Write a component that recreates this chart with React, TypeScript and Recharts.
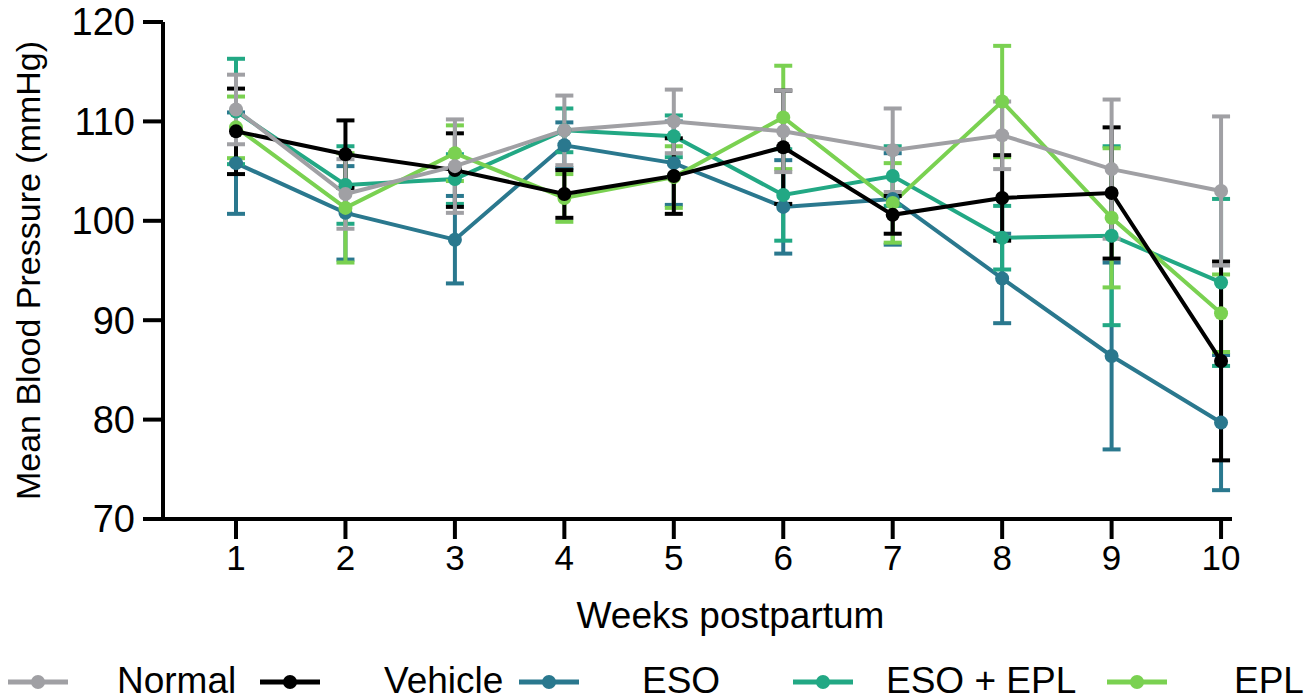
import { LineChart, Line, XAxis, YAxis, ErrorBar, Legend } from 'recharts';

const weeks = [1, 2, 3, 4, 5, 6, 7, 8, 9, 10];

const normal = [111.2, 102.7, 105.5, 109.1, 110.0, 109.0, 107.1, 108.6, 105.2, 103.0];
const normalErr = [3.5, 3.5, 4.7, 3.5, 3.2, 4.1, 4.2, 3.4, 7.0, 7.5];
const vehicle = [109.0, 106.7, 105.1, 102.7, 104.5, 107.4, 100.6, 102.3, 102.8, 85.9];
const vehicleErr = [4.3, 3.4, 3.7, 2.4, 3.8, 5.7, 1.9, 4.3, 6.6, 10.0];
const eso = [105.8, 100.8, 98.1, 107.6, 105.8, 101.4, 102.2, 94.2, 86.4, 79.7];
const esoErr = [5.1, 4.7, 4.4, 2.3, 4.2, 4.7, 4.6, 4.5, 9.4, 6.8];
const esoEpl = [111.0, 103.6, 104.2, 109.1, 108.5, 102.6, 104.5, 98.3, 98.5, 93.8];
const esoEplErr = [5.3, 3.9, 2.5, 2.2, 2.1, 4.6, 3.0, 3.2, 9.0, 8.4];
const epl = [109.4, 101.3, 106.8, 102.3, 104.4, 110.4, 101.8, 112.0, 100.3, 90.7];
const eplErr = [3.1, 5.5, 2.8, 2.4, 3.1, 5.2, 4.0, 5.6, 7.0, 3.9];

const yTicks = [70, 80, 90, 100, 110, 120];

const FONT = '"Liberation Sans", Arial, Helvetica, sans-serif';

const data = weeks.map((w, i) => ({
  week: w,
  normal: normal[i],
  normalErr: normalErr[i],
  vehicle: vehicle[i],
  vehicleErr: vehicleErr[i],
  eso: eso[i],
  esoErr: esoErr[i],
  esoEpl: esoEpl[i],
  esoEplErr: esoEplErr[i],
  epl: epl[i],
  eplErr: eplErr[i],
}));

// drawn bottom to top
const series = [
  { key: 'eso', name: 'ESO', color: '#2a788e' },
  { key: 'esoEpl', name: 'ESO + EPL', color: '#22a884' },
  { key: 'epl', name: 'EPL', color: '#7ad151' },
  { key: 'vehicle', name: 'Vehicle', color: '#000000' },
  { key: 'normal', name: 'Normal', color: '#a0a0a4' },
];

const legendItems = [
  { name: 'Normal', color: '#a0a0a4', sym: 38, text: 117 },
  { name: 'Vehicle', color: '#000000', sym: 290, text: 384 },
  { name: 'ESO', color: '#2a788e', sym: 549, text: 642 },
  { name: 'ESO + EPL', color: '#22a884', sym: 823, text: 886 },
  { name: 'EPL', color: '#7ad151', sym: 1137, text: 1234 },
];

function LegendContent() {
  return (
    <div style={{ position: 'relative', width: 1313, height: 60, fontFamily: FONT }}>
      {legendItems.map((it) => (
        <div key={it.name}>
          <svg
            width={64}
            height={20}
            style={{ position: 'absolute', left: it.sym - 32, top: 33 }}
          >
            <line x1={2} y1={10} x2={62} y2={10} stroke={it.color} strokeWidth={5} />
            <circle cx={32} cy={10} r={7} fill={it.color} />
          </svg>
          <span
            style={{
              position: 'absolute',
              left: it.text,
              top: 22,
              fontSize: 37,
              lineHeight: '40px',
              color: '#000',
              whiteSpace: 'nowrap',
            }}
          >
            {it.name}
          </span>
        </div>
      ))}
    </div>
  );
}

export default function App() {
  return (
    <div style={{ position: 'absolute', left: 0, top: 0, width: 1313, height: 699, background: '#fff' }}>
      <LineChart
        width={1313}
        height={699}
        data={data}
        margin={{ top: 22, right: 81, bottom: 0, left: 0 }}
      >
        <XAxis
          dataKey="week"
          type="number"
          domain={[0.333, 10.1]}
          ticks={weeks}
          allowDataOverflow
          height={120}
          tickSize={20}
          tickMargin={6}
          axisLine={{ stroke: '#000', strokeWidth: 4 }}
          tickLine={{ stroke: '#000', strokeWidth: 4 }}
          tick={{ fill: '#000', fontSize: 35, fontFamily: FONT }}
          label={(props: any) => {
            const vb = props.viewBox;
            return (
              <text
                x={vb.x + vb.width / 2 + 33}
                y={vb.y + 109}
                textAnchor="middle"
                fontSize={37}
                fontFamily={FONT}
                fill="#000"
              >
                Weeks postpartum
              </text>
            );
          }}
        />
        <YAxis
          type="number"
          domain={[70, 120]}
          ticks={yTicks}
          width={163}
          tickSize={20}
          tickMargin={8}
          axisLine={{ stroke: '#000', strokeWidth: 4 }}
          tickLine={{ stroke: '#000', strokeWidth: 4 }}
          tick={{ fill: '#000', fontSize: 38, fontFamily: FONT }}
          label={(props: any) => {
            const vb = props.viewBox;
            const cy = vb.y + vb.height / 2;
            return (
              <text
                x={40}
                y={cy}
                transform={`rotate(-90, 40, ${cy})`}
                textAnchor="middle"
                fontSize={34}
                fontFamily={FONT}
                fill="#000"
              >
                Mean Blood Pressure (mmHg)
              </text>
            );
          }}
        />
        <Legend verticalAlign="bottom" align="left" content={() => <LegendContent />} />
        {series.map((s) => (
          <Line
            key={s.key}
            dataKey={s.key}
            name={s.name}
            stroke={s.color}
            strokeWidth={4}
            dot={{ r: 7, fill: s.color, stroke: s.color, strokeWidth: 0 }}
            activeDot={false}
            isAnimationActive={false}
          >
            <ErrorBar
              dataKey={`${s.key}Err`}
              direction="y"
              width={9}
              stroke={s.color}
              strokeWidth={4}
            />
          </Line>
        ))}
      </LineChart>
    </div>
  );
}
